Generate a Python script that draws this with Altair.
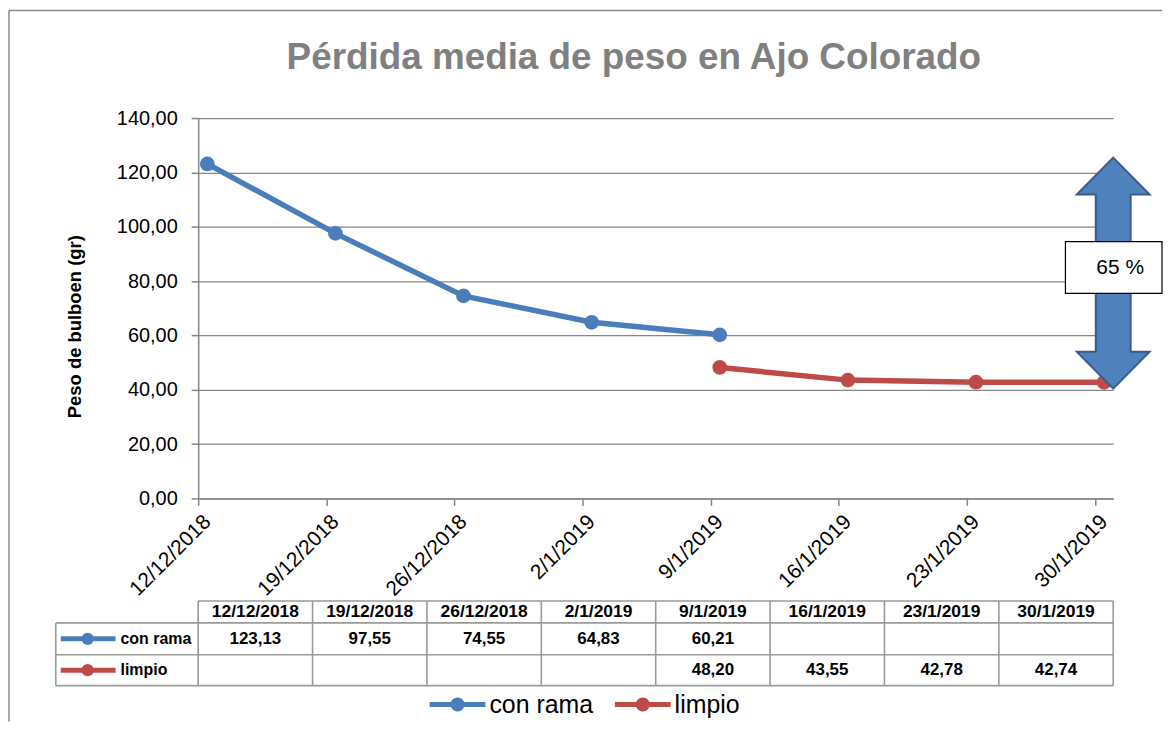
import altair as alt
import pandas as pd

# ---------------- data ----------------
fechas = ["2018/12/12", "2018/12/19", "2018/12/26", "2019/01/02",
          "2019/01/09", "2019/01/16", "2019/01/23", "2019/01/30"]
fecha_labels = ["12/12/2018", "19/12/2018", "26/12/2018", "2/1/2019",
                "9/1/2019", "16/1/2019", "23/1/2019", "30/1/2019"]
series = ["con rama", "limpio"]
con_rama = [123.13, 97.55, 74.55, 64.83, 60.21, None, None, None]
limpio = [None, None, None, None, 48.20, 43.55, 42.78, 42.74]
colores = ["#4A7EBB", "#BE4B48"]
y_ticks = [0, 20, 40, 60, 80, 100, 120, 140]
titulo = "Pérdida media de peso en Ajo Colorado"
y_titulo = "Peso de bulboen (gr)"
perdida = "65 %"
fecha_inicio = "2018/12/12"
fecha_fin = "2019/01/31"

# ---------------- layout constants ----------------
W, H = 919, 382
FONT = "Liberation Sans"
GRID = "#868686"
TBL = "#9a9a9a"
COLW = W / len(fechas)

valores = [con_rama, limpio]
rows = []
for s, vals in zip(series, valores):
    for f, v in zip(fechas, vals):
        if v is not None:
            rows.append({"serie": s, "fecha": f, "peso": v})
df = pd.DataFrame(rows)


def dt(s):
    y, m, d = (int(p) for p in s.split("/"))
    return alt.DateTime(year=y, month=m, date=d)


color_scale = alt.Scale(domain=series, range=colores)
x_scale = alt.Scale(domain=[dt(fecha_inicio), dt(fecha_fin)])

x_axis = alt.Axis(
    values=[dt(f) for f in fechas], format="%-d/%-m/%Y", title=None,
    labelAngle=-45, labelAlign="right", labelBaseline="middle",
    labelOffset=9, labelPadding=13, tickSize=7, grid=False,
    domainColor=GRID, tickColor=GRID, domainWidth=1.5, tickWidth=1.5,
    labelFont=FONT, labelFontSize=21, labelColor="#000000",
    labelOverlap=False, labelBound=False, labelFlush=False,
)
y_axis = alt.Axis(
    values=y_ticks, format=".2f", title=y_titulo,
    titleFont=FONT, titleFontSize=18.5, titleFontWeight="bold", titleColor="#000000",
    titleX=-124, titleY=209, titleAngle=-90, titleBaseline="middle", titleAlign="center",
    tickSize=7, labelPadding=14, labelFont=FONT, labelFontSize=20, labelColor="#000000",
    gridColor=GRID, gridWidth=1.3, domainColor=GRID, tickColor=GRID,
    domainWidth=1.5, tickWidth=1.5, labelOverlap=False,
)

x_enc = alt.X("xc:T", scale=x_scale, axis=x_axis)
y_enc = alt.Y("peso:Q", scale=alt.Scale(domain=[0, 140], nice=False), axis=y_axis)
c_enc = alt.Color("serie:N", scale=color_scale, legend=None)

base = alt.Chart(df).transform_calculate(xc="time(toDate(datum.fecha)) + 43200000")
lines = base.mark_line(strokeWidth=5.5).encode(x=x_enc, y=y_enc, color=c_enc)
points = base.mark_point(filled=True, size=220, opacity=1).encode(x=x_enc, y=y_enc, color=c_enc)

# double arrow spanning the loss
arrow_df = pd.DataFrame({"fecha": [fecha_fin],
                         "centro": [(max(v for v in con_rama if v) + min(v for v in limpio if v)) / 2]})
ARROW = ("M0,-1L0.315,-0.681L0.151,-0.681L0.151,0.681L0.315,0.681L0,1"
         "L-0.315,0.681L-0.151,0.681L-0.151,-0.681L-0.315,-0.681Z")
arrow = alt.Chart(arrow_df).transform_calculate(xc="time(toDate(datum.fecha))").mark_point(
    shape=ARROW, size=232 ** 2, fill="#4F81BD", stroke="#385D8A", strokeWidth=2,
    fillOpacity=1, opacity=1, strokeOpacity=1,
).encode(x=alt.X("xc:T", scale=x_scale), y=alt.Y("centro:Q"))

lab_df = pd.DataFrame({"t": [perdida]})
box = alt.Chart(lab_df).mark_rect(fill="white", stroke="#000000", strokeWidth=1.2).encode(
    x=alt.value(871), x2=alt.value(968), y=alt.value(124), y2=alt.value(176))
box_text = alt.Chart(lab_df).mark_text(font=FONT, fontSize=21, color="#000000",
                                       align="center", baseline="middle").encode(
    x=alt.value(926), y=alt.value(151), text="t:N")

title_df = pd.DataFrame({"t": [titulo]})
title_txt = alt.Chart(title_df).mark_text(font=FONT, fontSize=37, fontWeight="bold", color="#808080",
                                          align="center", baseline="alphabetic").encode(
    x=alt.value(W / 2 - 22), y=alt.value(-49), text="t:N")

one = pd.DataFrame({"a": [0]})
frame_left = alt.Chart(one).mark_rule(color="#8a8a8a", strokeWidth=1.5).encode(
    x=alt.value(-190), y=alt.value(-108), y2=alt.value(606))
frame_top = alt.Chart(one).mark_rule(color="#8a8a8a", strokeWidth=1.5).encode(
    x=alt.value(-190), x2=alt.value(968), y=alt.value(-108))

top = alt.layer(frame_left, frame_top, title_txt, lines, points, arrow, box, box_text).properties(
    width=W, height=H)

# ---------------- data table ----------------
TH = 85
ROW_Y = [0, 22, 54, 85]
XL = -143 / COLW
tx = alt.Scale(domain=[0, len(fechas)], nice=False, zero=False)
ty = alt.Scale(domain=[0, TH], reverse=True, nice=False, zero=False)

h_df = pd.DataFrame({"x": [0, XL, XL, XL], "x2": [len(fechas)] * 4, "y": ROW_Y})
v_df = pd.DataFrame({"x": [XL] + list(range(len(fechas) + 1)),
                     "y": [ROW_Y[1]] + [0] * (len(fechas) + 1),
                     "y2": [TH] * (len(fechas) + 2)})
hrules = alt.Chart(h_df).mark_rule(color=TBL, strokeWidth=1.6).encode(
    x=alt.X("x:Q", scale=tx, axis=None), x2="x2:Q", y=alt.Y("y:Q", scale=ty, axis=None))
vrules = alt.Chart(v_df).mark_rule(color=TBL, strokeWidth=1.6).encode(
    x=alt.X("x:Q", scale=tx, axis=None), y=alt.Y("y:Q", scale=ty, axis=None), y2="y2:Q")

head_df = pd.DataFrame({"col": [i + 0.5 for i in range(len(fechas))], "texto": fecha_labels,
                        "y": [(ROW_Y[0] + ROW_Y[1]) / 2] * len(fechas)})
header = alt.Chart(head_df).mark_text(font=FONT, fontSize=17.5, fontWeight="bold", color="#000000").encode(
    x=alt.X("col:Q", scale=tx, axis=None), y=alt.Y("y:Q", scale=ty, axis=None), text="texto:N")

cell_rows = []
for j, (s, vals) in enumerate(zip(series, valores)):
    for i, v in enumerate(vals):
        if v is not None:
            cell_rows.append({"col": i + 0.5, "valor": v, "y": (ROW_Y[j + 1] + ROW_Y[j + 2]) / 2})
cells = alt.Chart(pd.DataFrame(cell_rows)).mark_text(font=FONT, fontSize=17, fontWeight="bold",
                                                     color="#000000").encode(
    x=alt.X("col:Q", scale=tx, axis=None), y=alt.Y("y:Q", scale=ty, axis=None),
    text=alt.Text("valor:Q", format=".2f"))

rl_df = pd.DataFrame({"serie": series,
                      "y": [(ROW_Y[j + 1] + ROW_Y[j + 2]) / 2 for j in range(len(series))]})
tc_enc = alt.Color("serie:N", scale=color_scale, legend=None)
rl_line = alt.Chart(rl_df).mark_rule(strokeWidth=5).encode(
    x=alt.value(-138), x2=alt.value(-83), y=alt.Y("y:Q", scale=ty, axis=None), color=tc_enc)
rl_pt = alt.Chart(rl_df).mark_point(filled=True, size=150, opacity=1).encode(
    x=alt.value(-111), y=alt.Y("y:Q", scale=ty, axis=None), color=tc_enc)
rl_txt = alt.Chart(rl_df).mark_text(font=FONT, fontSize=16, fontWeight="bold", align="left",
                                    color="#000000").encode(
    x=alt.value(-78), y=alt.Y("y:Q", scale=ty, axis=None), text="serie:N")

# legend below the table
LEG_X = [232.5, 418.5]
leg_df = pd.DataFrame({"serie": series,
                       "a": [p / COLW for p in LEG_X],
                       "b": [(p + 56) / COLW for p in LEG_X],
                       "c": [(p + 28) / COLW for p in LEG_X],
                       "t": [(p + 60) / COLW for p in LEG_X],
                       "y": [104] * len(series)})
lg_line = alt.Chart(leg_df).mark_rule(strokeWidth=5).encode(
    x=alt.X("a:Q", scale=tx, axis=None), x2="b:Q", y=alt.Y("y:Q", scale=ty, axis=None), color=tc_enc)
lg_pt = alt.Chart(leg_df).mark_point(filled=True, size=200, opacity=1).encode(
    x=alt.X("c:Q", scale=tx, axis=None), y=alt.Y("y:Q", scale=ty, axis=None), color=tc_enc)
lg_txt = alt.Chart(leg_df).mark_text(font=FONT, fontSize=25, align="left", color="#000000").encode(
    x=alt.X("t:Q", scale=tx, axis=None), y=alt.Y("y:Q", scale=ty, axis=None), text="serie:N")

table = alt.layer(hrules, vrules, header, cells, rl_line, rl_pt, rl_txt,
                  lg_line, lg_pt, lg_txt).properties(width=W, height=TH)

chart = alt.vconcat(top, table, spacing=103).properties(
    bounds="flush", padding=0, background="white"
).configure(
    locale={"number": {"decimal": ",", "thousands": ".", "grouping": [3],
                       "currency": ["", " €"]}}
).configure_view(stroke=None)

chart.save("out.html", embed_options={"renderer": "svg", "actions": False})
